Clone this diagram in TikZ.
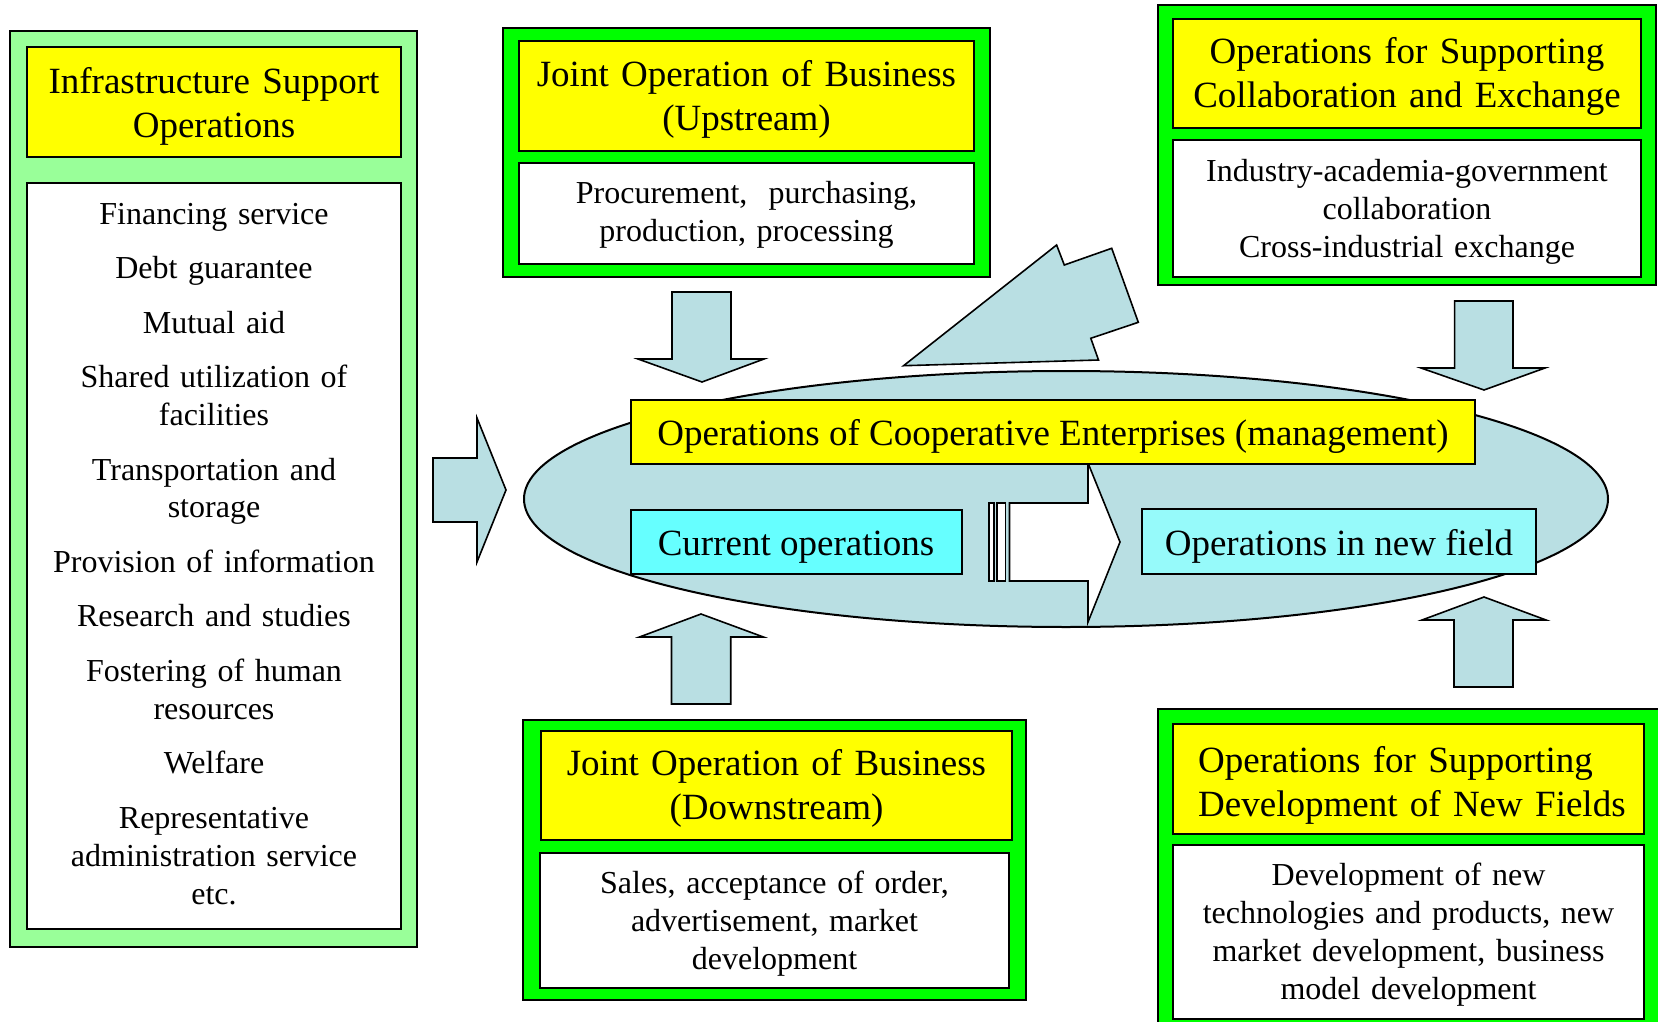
\documentclass[tikz,border=0pt]{standalone}
\usepackage{fontspec}
\setmainfont{Liberation Serif}
\usepackage{tikz}
\usetikzlibrary{calc}
\definecolor{brightgreen}{RGB}{0,255,0}
\definecolor{palegreen}{RGB}{153,255,153}
\definecolor{boxyellow}{RGB}{255,255,0}
\definecolor{arrowblue}{RGB}{185,223,227}
\definecolor{curcyan}{RGB}{102,255,255}
\definecolor{newcyan}{RGB}{150,250,250}

\begin{document}
\begin{tikzpicture}[line cap=round,line join=round,x=1pt,y=-1pt,
  frame/.style={draw=black,line width=2pt,line join=miter},
  barrow/.style={draw=black,line width=1.6pt,fill=arrowblue,line join=miter},
  title/.style={anchor=base,align=center,inner sep=0pt,font={\fontsize{37}{44}\selectfont}},
  body/.style={anchor=base,align=center,inner sep=0pt,font={\fontsize{32}{38}\selectfont}}]
\useasboundingbox (0,0) rectangle (1658,1022);
\clip (0,0) rectangle (1658,1022);
\fill[white] (0,0) rectangle (1658,1022);
\draw [frame,fill=palegreen] (10,31) rectangle (417,947);
\draw [frame,fill=boxyellow] (27,47) rectangle (401,157);
\draw [frame,fill=white] (27,183) rectangle (401,929);
\node[title,text width=360pt] (infratitle) at (214,93.6) {Infrastructure Support\\Operations};
\node[body,text width=360pt] (infralist) at (214,224) {Financing service\\[16.5pt]Debt guarantee\\[16.5pt]Mutual aid\\[16.5pt]Shared utilization of\\facilities\\[16.5pt]Transportation and\\storage\\[16.5pt]Provision of information\\[16.5pt]Research and studies\\[16.5pt]Fostering of human\\resources\\[16.5pt]Welfare\\[16.5pt]Representative\\administration service\\etc.};
\draw [frame,fill=brightgreen] (503,28) rectangle (990,277);
\draw [frame,fill=boxyellow] (519,41) rectangle (974,151);
\draw [frame,fill=white] (519,163) rectangle (974,264);
\node[title,text width=440pt] (uptitle) at (746.5,87) {Joint Operation of Business\\(Upstream)};
\node[body,text width=440pt] (uptext) at (746.5,204) {Procurement,\ \ purchasing,\\production, processing};
\draw [frame,fill=brightgreen] (1158,5) rectangle (1656,285);
\draw [frame,fill=boxyellow] (1173,19) rectangle (1641,128);
\draw [frame,fill=white] (1173,140) rectangle (1641,277);
\node[title,text width=460pt] (collabtitle) at (1407,64) {Operations for Supporting\\Collaboration and Exchange};
\node[body,text width=460pt] (collabtext) at (1407,182) {Industry-academia-government\\collaboration\\Cross-industrial exchange};
\draw [frame,fill=brightgreen] (523,720) rectangle (1026,1000);
\draw [frame,fill=boxyellow] (541,731) rectangle (1012,840);
\draw [frame,fill=white] (540,853) rectangle (1009,988);
\node[title,text width=460pt] (downtitle) at (776.5,775) {Joint Operation of Business\\(Downstream)};
\node[body,text width=460pt] (downtext) at (774.5,893) {Sales, acceptance of order,\\advertisement, market\\development};
\draw [frame,fill=brightgreen] (1158,709) rectangle (1664,1040);
\draw [frame,fill=boxyellow] (1173,724) rectangle (1644,834);
\draw [frame,fill=white] (1173,845) rectangle (1644,1019);
\node[title,anchor=base west,align=left,text width=440pt] (newtitle) at (1198,772) {Operations for Supporting\\Development of New Fields};
\node[body,text width=460pt] (newtext) at (1408.5,885) {Development of new\\technologies and products, new\\market development, business\\model development};
\draw [line width=2pt,fill=arrowblue] (1066,499) ellipse [x radius=542, y radius=128];
\draw [barrow] (433,458) -- (477,458) -- (477,418) -- (506,490) -- (477,562) -- (477,522) -- (433,522) -- cycle;
\draw [barrow] (672,292) -- (731,292) -- (731,359) -- (764,359) -- (702,382) -- (638,359) -- (672,359) -- cycle;
\draw [barrow] (671.5,704) -- (730.7,704) -- (730.7,637) -- (763.4,637) -- (701,614) -- (639.5,637) -- (671.5,637) -- cycle;
\draw [barrow] (1454.6,301) -- (1513,301) -- (1513,368) -- (1545,368) -- (1484,390) -- (1421,368) -- (1454.6,368) -- cycle;
\draw [barrow] (1454,687) -- (1513,687) -- (1513,620) -- (1546,620) -- (1484,597) -- (1422,620) -- (1454,620) -- cycle;
\draw [barrow] (903.6,365.7) -- (1056.6,245) -- (1064.3,265) -- (1111.7,248.3) -- (1138.3,322.3) -- (1090.8,338.3) -- (1098.5,360) -- cycle;
\draw [barrow,fill=white,line width=1.4pt] (989,503) rectangle (994,581);
\draw [barrow,fill=white,line width=1.4pt] (997,503) rectangle (1005.5,581);
\draw [barrow,fill=white] (1009.5,503) -- (1088,503) -- (1088,463) -- (1120,542) -- (1088,622) -- (1088,581) -- (1009.5,581) -- cycle;
\draw [frame,fill=boxyellow] (631,400) rectangle (1475,464);
\node[title] (mgmt) at (1053,445) {Operations of Cooperative Enterprises (management)};
\draw [frame,fill=curcyan] (631,510) rectangle (961.5,574);
\node[title] (current) at (796,555) {Current operations};
\draw [frame,fill=newcyan] (1142,509) rectangle (1536,574);
\node[title] (newfield) at (1339,555) {Operations in new field};
\end{tikzpicture}
\end{document}
